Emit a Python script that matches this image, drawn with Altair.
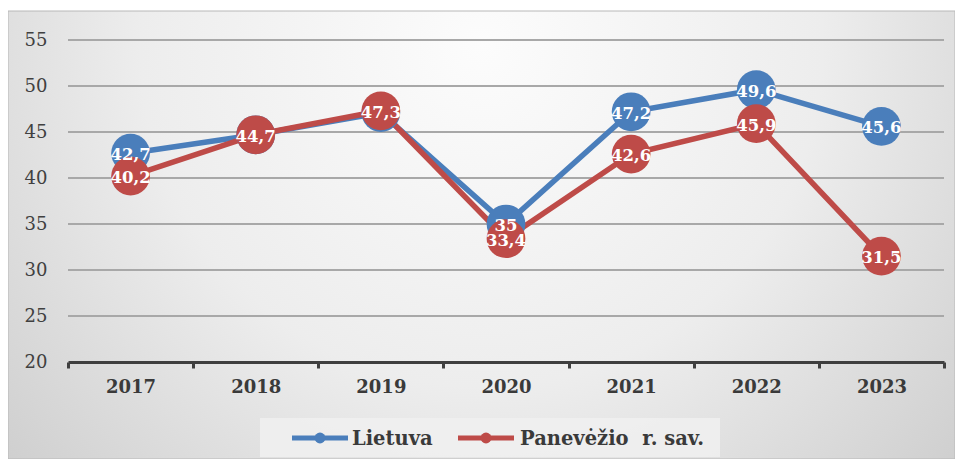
import altair as alt
import pandas as pd

years = ["2017", "2018", "2019", "2020", "2021", "2022", "2023"]
series_names = ["Lietuva", "Panevėžio\u00a0 r. sav."]
lietuva = [42.7, 44.7, 47.1, 35.0, 47.2, 49.6, 45.6]
panevezio = [40.2, 44.7, 47.3, 33.4, 42.6, 45.9, 31.5]
# labels hidden in the reference where the red marker covers the blue one
lietuva_label_visible = [True, False, False, True, True, True, True]
y_ticks = [20, 25, 30, 35, 40, 45, 50, 55]
colors = ["#4A7EBB", "#BE4B48"]


def fmt(v):
    return f"{v:g}".replace(".", ",")


rows = []
for y, v, vis in zip(years, lietuva, lietuva_label_visible):
    rows.append({"year": y, "series": series_names[0], "value": v, "label": fmt(v) if vis else ""})
for y, v in zip(years, panevezio):
    rows.append({"year": y, "series": series_names[1], "value": v, "label": fmt(v)})
df = pd.DataFrame(rows)

W, H = 876, 322
FONT = "DejaVu Serif"

x_enc = alt.X(
    "year:O",
    sort=years,
    scale=alt.Scale(type="band", paddingInner=0, paddingOuter=0),
    axis=alt.Axis(
        title=None,
        labelAngle=0,
        labelFont=FONT,
        labelFontSize=18,
        labelFontWeight="bold",
        labelColor="#3a3a3a",
        labelPadding=10,
        domainColor="#3f3f3f",
        domainWidth=3,
        tickColor="#3f3f3f",
        tickWidth=3,
        tickSize=6,
        tickBand="extent",
        grid=False,
        zindex=1,
    ),
)
y_scale = alt.Scale(domain=[20, 55], nice=False, zero=False)
y_axis = alt.Axis(
    title=None,
    values=y_ticks,
    labelFont=FONT,
    labelFontSize=18,
    labelColor="#404040",
    labelPadding=21,
    ticks=False,
    domain=False,
    grid=False,
    zindex=1,
)
y_enc = alt.Y("value:Q", scale=y_scale, axis=y_axis)
color_scale = alt.Scale(domain=series_names, range=colors)

one = pd.DataFrame({"a": [0]})

bg = alt.Chart(one).mark_rect(
    fill={
        "gradient": "radial",
        "x1": 0.5, "y1": 0.3, "r1": 0.0,
        "x2": 0.5, "y2": 0.3, "r2": 0.8,
        "stops": [
            {"offset": 0.0, "color": "#fcfcfc"},
            {"offset": 0.45, "color": "#ededed"},
            {"offset": 1.0, "color": "#c2c2c2"},
        ],
    },
    stroke="#b8b8b8",
    strokeWidth=1,
).encode(
    x=alt.value(-60), x2=alt.value(W + 11), y=alt.value(-29), y2=alt.value(H + 97)
)

grid = alt.Chart(pd.DataFrame({"value": y_ticks[1:]})).mark_rule(
    color="#a8a8a8", strokeWidth=2
).encode(y=alt.Y("value:Q", scale=y_scale, axis=y_axis), x=alt.value(0), x2=alt.value(W))

legend_box = alt.Chart(one).mark_rect(fill="#f0f0f0", opacity=0.85).encode(
    x=alt.value(192), x2=alt.value(652), y=alt.value(378), y2=alt.value(417)
)

# legend entries (symbol start x, label x) in pixels of the plot area
legend_layers = []
LY = 398
for name, col, sx, tx in zip(series_names, colors, [224, 390], [284, 452]):
    legend_layers.append(
        alt.Chart(one).mark_rule(strokeWidth=5, color=col).encode(
            x=alt.value(sx), x2=alt.value(sx + 56), y=alt.value(LY)
        )
    )
    legend_layers.append(
        alt.Chart(one).mark_circle(size=120, opacity=1, color=col).encode(
            x=alt.value(sx + 28), y=alt.value(LY)
        )
    )
    legend_layers.append(
        alt.Chart(one).mark_text(
            text=name, font=FONT, fontSize=19.5, fontWeight="bold", color="#3a3a3a",
            align="left", baseline="middle",
        ).encode(x=alt.value(tx), y=alt.value(LY + 1))
    )

lines = alt.Chart(df).mark_line(strokeWidth=5.5).encode(
    x=x_enc,
    y=y_enc,
    color=alt.Color("series:N", scale=color_scale, sort=series_names, legend=None),
)

points = alt.Chart(df).mark_circle(size=1500, opacity=1).encode(
    x=x_enc,
    y=y_enc,
    color=alt.Color("series:N", scale=color_scale, legend=None),
)

texts = alt.Chart(df).mark_text(
    font=FONT, fontSize=16.5, fontWeight="bold", color="white", baseline="middle", dy=2
).encode(x=x_enc, y=y_enc, text="label:N")

chart = (
    alt.layer(bg, grid, legend_box, *legend_layers, lines, points, texts)
    .properties(
        width=W,
        height=H,
        autosize=alt.AutoSizeParams(type="none"),
        padding={"left": 60, "top": 32, "right": 11, "bottom": 97},
        background="white",
    )
    .configure_view(stroke=None)
)

chart.save("out.html", embed_options={"renderer": "svg", "actions": False})
